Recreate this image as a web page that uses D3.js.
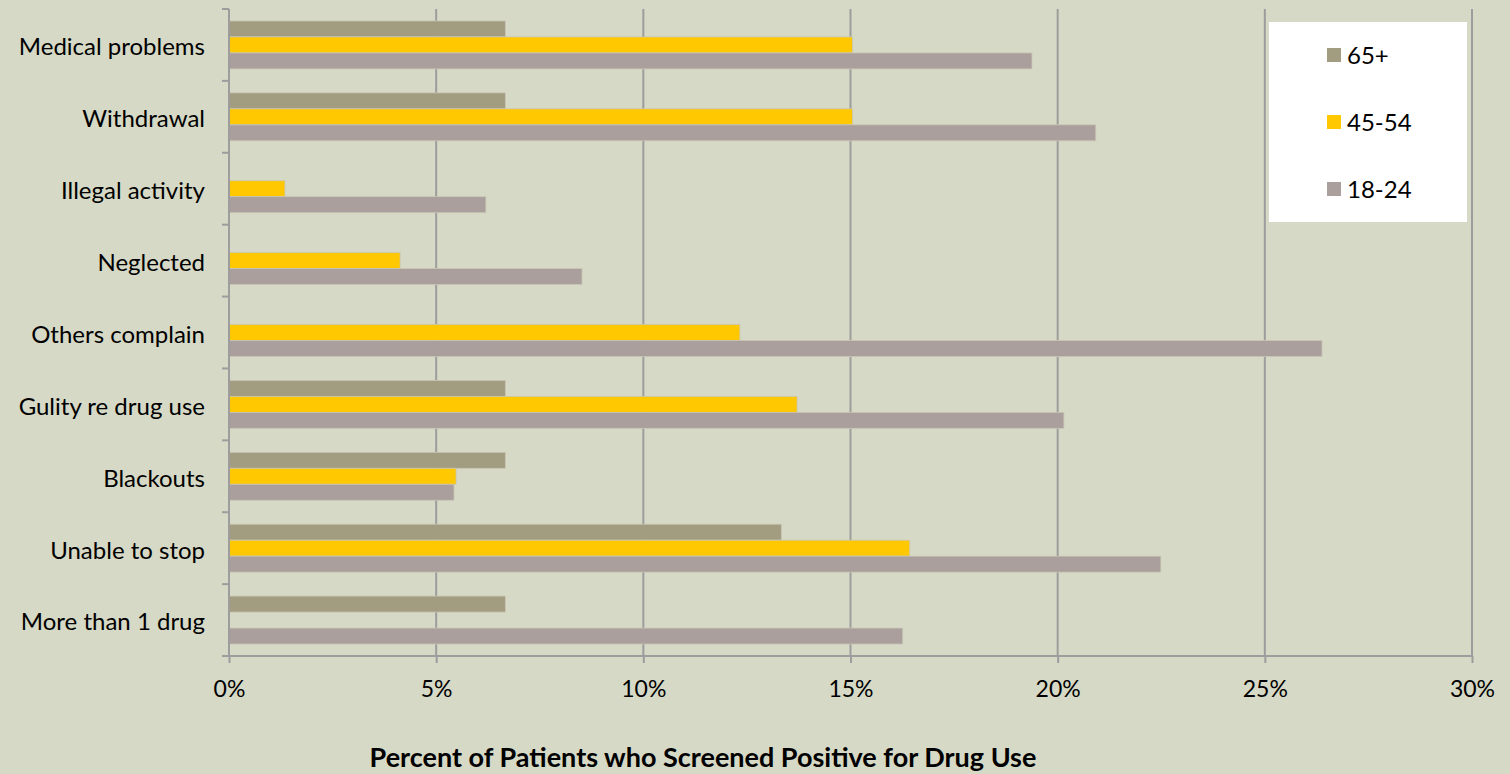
<!DOCTYPE html>
<html>
<head>
<meta charset="utf-8">
<script src="https://cdn.jsdelivr.net/npm/d3@7"></script>
<style>
  body { margin: 0; background: #d6d9c5; }
  text { font-family: "Gill Sans", Lato, "Open Sans", sans-serif; fill: #000; }
</style>
</head>
<body>
<svg width="1510" height="774"></svg>
<script>
const categories = ['Medical problems', 'Withdrawal', 'Illegal activity', 'Neglected', 'Others complain',
  'Gulity re drug use', 'Blackouts', 'Unable to stop', 'More than 1 drug'];
const series = ['65+', '45-54', '18-24'];
const colors = ['#a29c80', '#ffc800', '#aa9f9c'];
const values65 = [6.67, 6.67, 0, 0, 0, 6.67, 6.67, 13.33, 6.67];
const values4554 = [15.05, 15.05, 1.35, 4.13, 12.33, 13.71, 5.48, 16.43, 0];
const values1824 = [19.38, 20.92, 6.2, 8.52, 26.38, 20.15, 5.43, 22.49, 16.26];
const xTicks = [0, 5, 10, 15, 20, 25, 30];

const allValues = [values65, values4554, values1824];
const data = categories.map((c, i) => ({
  cat: c,
  vals: series.map((s, j) => ({ key: s, value: allValues[j][i], color: colors[j] }))
}));

const margin = {top: 9, right: 38, left: 229, bottom: 118};
const width = 1510 - margin.left - margin.right;
const height = 774 - margin.top - margin.bottom;

const svg = d3.select('svg');
const g = svg.append('g').attr('transform', `translate(${margin.left},${margin.top})`);

const xscale = d3.scaleLinear().domain([0, 30]).range([0, width]);
const yscale = d3.scaleBand().domain(categories).range([0, height])
  .paddingInner(1/3).paddingOuter(1/6);
const inner = d3.scaleBand().domain(series).range([0, yscale.bandwidth()]);

// gridlines
g.append('g').selectAll('line').data(xTicks.slice(1)).join('line')
  .attr('x1', d => xscale(d)).attr('x2', d => xscale(d))
  .attr('y1', 0).attr('y2', height)
  .attr('stroke', '#9d9d9d').attr('stroke-width', 2);

// bars
const groups = g.selectAll('.cat').data(data).join('g')
  .attr('transform', d => `translate(0,${yscale(d.cat)})`);
groups.selectAll('rect').data(d => d.vals.filter(v => v.value > 0)).join('rect')
  .attr('x', 0)
  .attr('y', d => inner(d.key))
  .attr('width', d => xscale(d.value))
  .attr('height', inner.bandwidth())
  .attr('fill', d => d.color)
  .attr('stroke', '#c9c6b4').attr('stroke-width', 0.8);

// y axis: ticks between categories
const step = yscale.step();
const bounds = d3.range(categories.length + 1).map(i => i * step);
const yAxisG = g.append('g');
yAxisG.append('line').attr('x1', 0).attr('x2', 0).attr('y1', 0).attr('y2', height)
  .attr('stroke', '#9d9d9d').attr('stroke-width', 2);
yAxisG.selectAll('.yt').data(bounds).join('line')
  .attr('x1', -7).attr('x2', 0).attr('y1', d => d).attr('y2', d => d)
  .attr('stroke', '#9d9d9d').attr('stroke-width', 2);
yAxisG.selectAll('text').data(categories).join('text')
  .attr('x', -24)
  .attr('y', d => yscale(d) + yscale.bandwidth() / 2 + 2)
  .attr('dy', '0.35em')
  .attr('text-anchor', 'end')
  .attr('font-size', 24)
  .text(d => d);

// x axis
const xAxis = d3.axisBottom(xscale).tickValues(xTicks).tickSize(7)
  .tickFormat(d => d + '%');
const xAxisG = g.append('g').attr('transform', `translate(0,${height})`).call(xAxis);
xAxisG.select('.domain').attr('stroke', '#9d9d9d').attr('stroke-width', 2).attr('d', `M0,0H${width}`);
xAxisG.selectAll('.tick line').attr('stroke', '#9d9d9d').attr('stroke-width', 2);
xAxisG.selectAll('.tick text').attr('font-size', 23).attr('y', 25).attr('fill', '#000')
  .attr('font-family', '"Gill Sans", Lato, sans-serif');

// axis title
svg.append('text')
  .attr('x', 703).attr('y', 767)
  .attr('text-anchor', 'middle')
  .attr('font-size', 27).attr('font-weight', 'bold')
  .text('Percent of Patients who Screened Positive for Drug Use');

// legend
const legend = svg.append('g').attr('transform', 'translate(1269,22)');
legend.append('rect').attr('width', 198).attr('height', 200).attr('fill', '#fff');
const li = legend.selectAll('.li').data(series).join('g')
  .attr('transform', (d, i) => `translate(58,${33 + i * 67})`);
li.append('rect').attr('width', 14).attr('height', 14).attr('y', -7)
  .attr('fill', (d, i) => colors[i]);
li.append('text').attr('x', 20).attr('dy', '0.37em').attr('font-size', 24).text(d => d);
</script>
</body>
</html>
